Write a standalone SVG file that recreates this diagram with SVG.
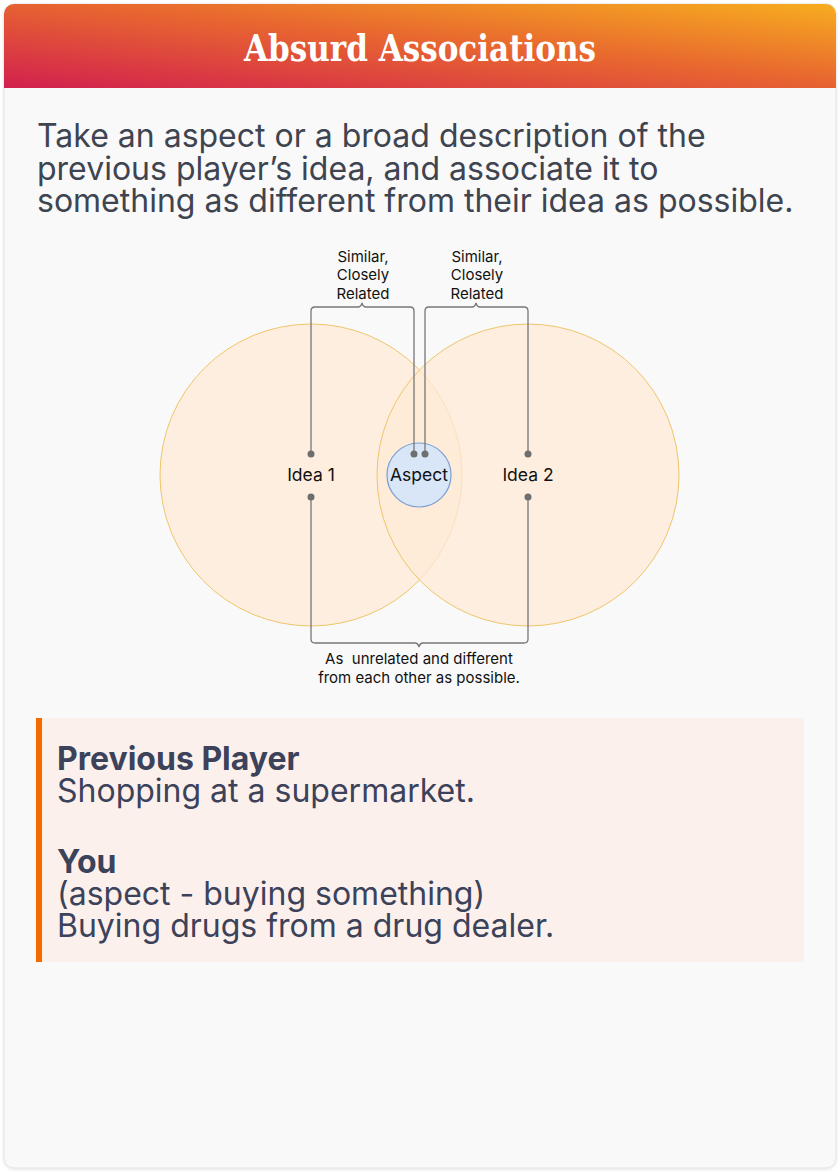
<svg xmlns="http://www.w3.org/2000/svg" width="840" height="1172" viewBox="0 0 840 1172">
<defs>
<linearGradient id="hdr" x1="0" y1="1" x2="1" y2="0" gradientUnits="objectBoundingBox">
<stop offset="0" stop-color="#d2204e"/>
<stop offset="0.55" stop-color="#e8682f"/>
<stop offset="1" stop-color="#f7ad1f"/>
</linearGradient>
<filter id="sh" x="-5%" y="-5%" width="110%" height="110%">
<feDropShadow dx="0" dy="1" stdDeviation="1.5" flood-color="#000" flood-opacity="0.12"/>
</filter>
<clipPath id="cardclip"><rect x="4" y="4" width="832" height="1164" rx="10"/></clipPath>
</defs>
<style>
.body{font-family:Inter,"Noto Sans","Liberation Sans",sans-serif;fill:#3e4450;font-size:32px}
.small{font-family:Inter,"Noto Sans","Liberation Sans",sans-serif;fill:#111;font-size:15px;text-anchor:middle}
.node{font-family:Inter,"Noto Sans","Liberation Sans",sans-serif;fill:#111;font-size:17.5px;text-anchor:middle}
.circ{fill:#fde9d6;fill-opacity:0.75;stroke:#efc66a;stroke-width:1}
.br{fill:none;stroke:#777;stroke-width:1.3}
.dot{fill:#6e6e6e}
.ex{font-family:Inter,"Noto Sans","Liberation Sans",sans-serif;fill:#3b4259;font-size:32px}
.exb{font-weight:bold}
</style>
<rect width="840" height="1172" fill="#ffffff"/>
<g id="card">
<rect x="4" y="4" width="832" height="1164" rx="10" fill="#f9f9f9" stroke="#e4e4e4" stroke-width="1" filter="url(#sh)"/>
<rect x="4" y="4" width="832" height="84" fill="url(#hdr)" clip-path="url(#cardclip)"/>
<text x="244" y="61" textLength="352" lengthAdjust="spacingAndGlyphs" font-family="'DejaVu Serif','Liberation Serif',serif" font-weight="bold" font-stretch="condensed" font-size="37" fill="#ffffff">Absurd Associations</text>
</g>
<g id="intro">
<text class="body" x="37" y="147">Take an aspect or a broad description of the</text>
<text class="body" x="37" y="180">previous player’s idea, and associate it to</text>
<text class="body" x="37" y="212">something as different from their idea as possible.</text>
</g>
<g id="idea1"><circle class="circ" cx="311" cy="475" r="151"/></g>
<g id="idea2"><circle class="circ" cx="528" cy="475" r="151"/></g>
<g id="aspect"><circle cx="419" cy="475" r="32" fill="#d8e6f8" stroke="#7b9fd4" stroke-width="1.2"/></g>
<g id="connectors">
<path class="br" d="M311 454 V311 Q311 307 315 307 H358 Q361 307 362 303 Q363 307 366 307 H410 Q414 307 414 311 V454"/>
<path class="br" d="M425 454 V311 Q425 307 429 307 H472 Q475 307 476 303 Q477 307 480 307 H524 Q528 307 528 311 V454"/>
<path class="br" d="M311 497 V639 Q311 643 315 643 H415 Q418 643 419 647 Q420 643 423 643 H524 Q528 643 528 639 V497"/>
<circle class="dot" cx="311" cy="454" r="3.5"/>
<circle class="dot" cx="311" cy="497" r="3.5"/>
<circle class="dot" cx="414" cy="454" r="3.5"/>
<circle class="dot" cx="425" cy="454" r="3.5"/>
<circle class="dot" cx="528" cy="454" r="3.5"/>
<circle class="dot" cx="528" cy="497" r="3.5"/>
</g>
<g id="labels">
<text class="node" x="311" y="481">Idea 1</text>
<text class="node" x="419" y="481">Aspect</text>
<text class="node" x="528" y="481">Idea 2</text>
<text class="small" x="363" y="262">Similar,</text>
<text class="small" x="363" y="280">Closely</text>
<text class="small" x="363" y="299">Related</text>
<text class="small" x="477" y="262">Similar,</text>
<text class="small" x="477" y="280">Closely</text>
<text class="small" x="477" y="299">Related</text>
<text class="small" x="419" y="664" xml:space="preserve">As  unrelated and different</text>
<text class="small" x="419" y="683">from each other as possible.</text>
</g>
<g id="example">
<rect x="36" y="718" width="768" height="244" fill="#fcf0ed"/>
<rect x="36" y="718" width="6" height="244" fill="#f56a00"/>
<text class="ex exb" x="57" y="770">Previous Player</text>
<text class="ex" x="57" y="802">Shopping at a supermarket.</text>
<text class="ex exb" x="57" y="873">You</text>
<text class="ex" x="57" y="905">(aspect - buying something)</text>
<text class="ex" x="57" y="937">Buying drugs from a drug dealer.</text>
</g>
</svg>
